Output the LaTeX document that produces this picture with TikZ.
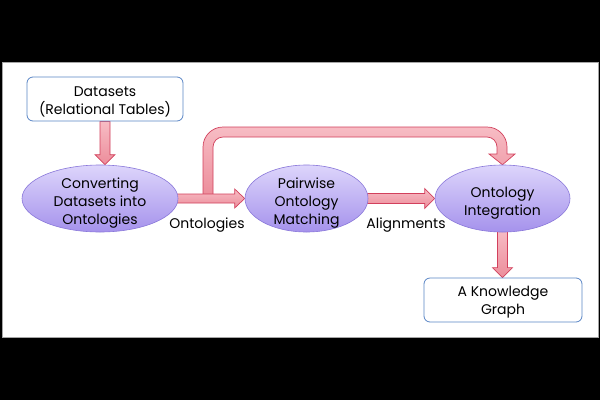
\documentclass[tikz,border=0pt]{standalone}
\usepackage{fontspec}
\setmainfont{Poppins}
\usetikzlibrary{shapes.geometric,calc,backgrounds}
\definecolor{ellTop}{HTML}{DDD5FB}
\definecolor{ellBot}{HTML}{A592EC}
\definecolor{ellLine}{HTML}{8A78DA}
\definecolor{boxLine}{HTML}{5A86C6}
\definecolor{arrTop}{HTML}{F7BCC4}
\definecolor{arrBot}{HTML}{EC8D9B}
\definecolor{arrLine}{HTML}{D2405C}
\newcommand{\upstrut}[1]{\rule{0pt}{#1}}
\begin{document}
\begin{tikzpicture}[x=1pt,y=-1pt,
  txt/.style={font=\fontsize{14}{18}\selectfont, align=center, text=black, inner sep=0pt},
  ell/.style={ellipse, txt, inner sep=-14pt, draw=ellLine, line width=0.6pt, top color=ellTop, bottom color=ellBot},
  rbox/.style={rectangle, rounded corners=6pt, txt, draw=boxLine, line width=0.8pt, fill=white},
  barrow/.style={draw=arrLine, line width=0.7pt, top color=arrTop, bottom color=arrBot, line join=miter},
  lab/.style={txt}]
\useasboundingbox (0,0) rectangle (600,400);

% nodes
\node[rbox, minimum width=156pt, minimum height=44pt] (ds) at (105,99) {\upstrut{15pt}Datasets\\(Relational Tables)};
\node[ell, minimum width=156pt, minimum height=67pt] (conv) at (100,198.5) {\upstrut{20pt}Converting\\Datasets into\\Ontologies};
\node[ell, minimum width=123pt, minimum height=67pt] (pair) at (306.5,198.5) {\upstrut{20pt}Pairwise\\Ontology\\Matching};
\node[ell, minimum width=135pt, minimum height=67pt] (integ) at (502.5,198.5) {\upstrut{19pt}Ontology\\Integration};
\node[rbox, minimum width=158pt, minimum height=44pt] (kg) at (503,300) {\upstrut{14pt}A Knowledge\\Graph};

\node[lab] (lo) at (207,225) {Ontologies};
\node[lab] (la) at (406,225) {Alignments};

\begin{scope}[on background layer]
\fill[black] (0,0) rectangle (600,400);
\draw[gray!70, fill=white, line width=1pt] (2,62) rectangle (598,337);

% curved arrow (drawn first, below the straight one)
\coordinate (cs) at (208,196);
\shade[barrow] ($(cs)+(-5,0)$) -- (203,147) .. controls (203,136) and (212,127) .. (223,127)
  -- (487,127) .. controls (498,127) and (507,136) .. (507,147)
  -- (507,154) -- (515,154) -- (integ.north) -- (489,154) -- (497,154) -- (497,147)
  .. controls (497,141.5) and (492.5,137) .. (487,137)
  -- (223,137) .. controls (217.5,137) and (213,141.5) .. (213,147)
  -- ($(cs)+(5,0)$) -- cycle;

% datasets -> conv
\shade[barrow] ($(ds.south)+(-5,0)$) -- ($(ds.south)+(5,0)$) -- ($(ds.south |- conv.north)+(5,-10)$) -- ($(ds.south |- conv.north)+(10,-10)$) -- (ds.south |- conv.north) -- ($(ds.south |- conv.north)+(-10,-10)$) -- ($(ds.south |- conv.north)+(-5,-10)$) -- cycle;

% conv -> pair
\shade[barrow] ($(conv.east)+(-2,-4.5)$) -- ($(pair.west)+(-10,-4.5)$) -- ($(pair.west)+(-10,-9.5)$) -- (pair.west) -- ($(pair.west)+(-10,9.5)$) -- ($(pair.west)+(-10,4.5)$) -- ($(conv.east)+(-2,4.5)$) -- cycle;

% pair -> integ
\shade[barrow] ($(pair.east)+(-2,-5)$) -- ($(integ.west)+(-10,-5)$) -- ($(integ.west)+(-10,-10)$) -- (integ.west) -- ($(integ.west)+(-10,10)$) -- ($(integ.west)+(-10,5)$) -- ($(pair.east)+(-2,5)$) -- cycle;

% integ -> kg
\shade[barrow] ($(integ.south)+(-5,-2)$) -- ($(integ.south)+(5,-2)$) -- ($(integ.south |- kg.north)+(5,-10)$) -- ($(integ.south |- kg.north)+(10,-10)$) -- (integ.south |- kg.north) -- ($(integ.south |- kg.north)+(-10,-10)$) -- ($(integ.south |- kg.north)+(-5,-10)$) -- cycle;
\end{scope}
\end{tikzpicture}
\end{document}
